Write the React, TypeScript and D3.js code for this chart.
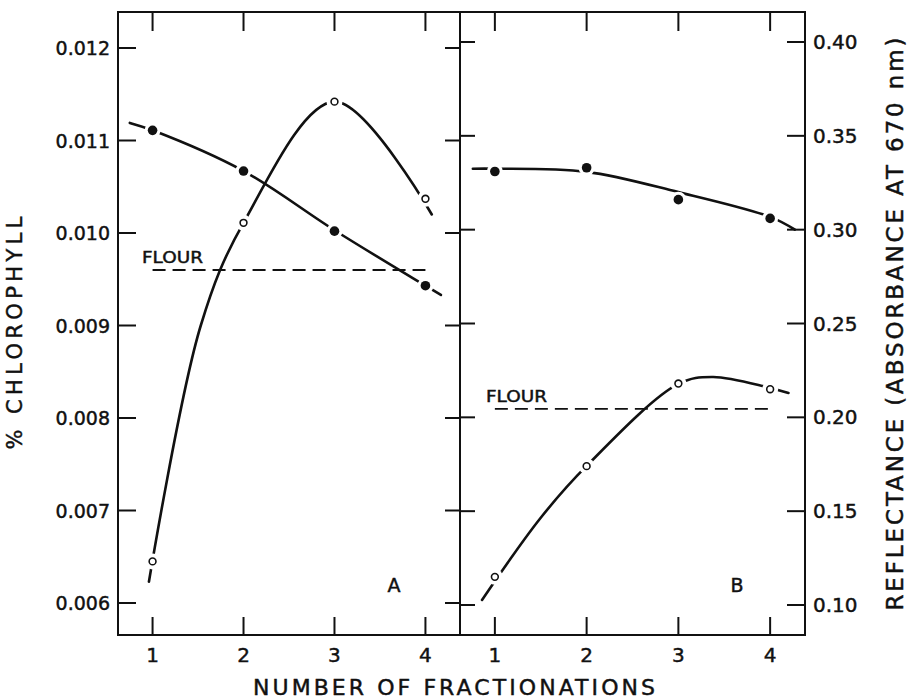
import React from 'react';
import * as d3 from 'd3';

const fractions = [1, 2, 3, 4];

// panel A, % chlorophyll
const chlFilled = [0.01111, 0.01067, 0.01002, 0.00943];
const chlOpen = [0.00645, 0.01011, 0.01142, 0.01037];
const chlFlour = 0.0096;
const chlTicks = [0.006, 0.007, 0.008, 0.009, 0.01, 0.011, 0.012];

// hand-drawn curves through panel A points
const chlFilledCurveX = [0.75, 1, 2, 3, 4, 4.17];
const chlFilledCurveY = [0.01119, 0.01111, 0.01067, 0.01003, 0.00943, 0.00933];
const chlOpenCurveX = [0.96, 1.53, 2, 3, 4.07];
const chlOpenCurveY = [0.00623, 0.009, 0.01011, 0.01142, 0.0102];

// panel B, reflectance
const refFilled = [0.331, 0.333, 0.316, 0.306];
const refOpen = [0.115, 0.174, 0.218, 0.215];
const refFlour = 0.2045;
const refTicks = [0.1, 0.15, 0.2, 0.25, 0.3, 0.35, 0.4];

const refFilledCurveX = [0.76, 1, 2, 3, 4, 4.27];
const refFilledCurveY = [0.3325, 0.3325, 0.3308, 0.32, 0.3068, 0.3];
const refOpenCurveX = [0.86, 1.5, 2, 3, 3.38, 4.2];
const refOpenCurveY = [0.1027, 0.1465, 0.1741, 0.2178, 0.2215, 0.213];

const font = '"DejaVu Sans", sans-serif';

export default function App() {
  const left = 118, mid = 460, right = 805, top = 12, bottom = 635;

  const xA = d3.scaleLinear().domain([0.62, 4.38]).range([left, mid]);
  const xB = d3.scaleLinear().domain([0.62, 4.38]).range([mid, right]);
  const yA = d3.scaleLinear().domain([0.006, 0.012]).range([603, 48]);
  const yB = d3.scaleLinear().domain([0.1, 0.4]).range([605, 42]);

  const curve = (xs: number[], ys: number[], x: any, y: any) =>
    d3.line<number>()
      .x((_, i) => x(xs[i]))
      .y(d => y(d))
      .curve(d3.curveCatmullRom.alpha(0.5))(ys) as string;

  const fmtA = d3.format('.3f');
  const fmtB = d3.format('.2f');

  const stroke = '#111';
  const ink = { fill: stroke, stroke: stroke, strokeWidth: 0.45 };

  const markers = (vals: number[], x: any, y: any, filled: boolean) =>
    fractions.map((f, i) => (
      <g key={i}>
        <circle cx={x(f)} cy={y(vals[i])} r={8} fill="#fff" />
        {filled
          ? <circle cx={x(f)} cy={y(vals[i])} r={4.8} fill={stroke} />
          : <circle cx={x(f)} cy={y(vals[i])} r={3.4} fill="#fff" stroke={stroke} strokeWidth={1.6} />}
      </g>
    ));

  return (
    <svg width={916} height={700} style={{ position: 'absolute', left: 0, top: 0, background: '#fff' }}
      fontFamily={font}>
      <rect x={0} y={0} width={916} height={700} fill="#fff" />

      {/* frame */}
      <rect x={left} y={top} width={right - left} height={bottom - top} fill="none" stroke={stroke} strokeWidth={2} />
      <line x1={mid} x2={mid} y1={top} y2={bottom} stroke={stroke} strokeWidth={2} />

      {/* y ticks, scale A */}
      {chlTicks.map(t => (
        <g key={'a' + t}>
          <line x1={left} x2={left + 18} y1={yA(t)} y2={yA(t)} stroke={stroke} strokeWidth={2} />
          <line x1={mid - 15} x2={mid} y1={yA(t)} y2={yA(t)} stroke={stroke} strokeWidth={2} />
          <text x={110} y={yA(t)} textAnchor="end" dominantBaseline="central" fontSize={19} {...ink}>
            {fmtA(t)}
          </text>
        </g>
      ))}

      {/* y ticks, scale B */}
      {refTicks.map(t => (
        <g key={'b' + t}>
          <line x1={mid} x2={mid + 15} y1={yB(t)} y2={yB(t)} stroke={stroke} strokeWidth={2} />
          <line x1={right - 18} x2={right} y1={yB(t)} y2={yB(t)} stroke={stroke} strokeWidth={2} />
          <text x={813} y={yB(t)} textAnchor="start" dominantBaseline="central" fontSize={20} {...ink}>
            {fmtB(t)}
          </text>
        </g>
      ))}

      {/* x ticks, both panels */}
      {[xA, xB].map((x, p) => fractions.map(f => (
        <g key={p + '-' + f}>
          <line x1={x(f)} x2={x(f)} y1={top} y2={top + 19} stroke={stroke} strokeWidth={2} />
          <line x1={x(f)} x2={x(f)} y1={bottom} y2={bottom - 18} stroke={stroke} strokeWidth={2} />
          <text x={x(f)} y={662} textAnchor="middle" fontSize={20} {...ink}>{f}</text>
        </g>
      )))}

      {/* flour reference lines */}
      <line x1={xA(1)} x2={xA(4)} y1={yA(chlFlour)} y2={yA(chlFlour)} stroke={stroke} strokeWidth={1.8} strokeDasharray="13 7" />
      <text x={142} y={yA(chlFlour) - 7} fontSize={15} {...ink} textLength={61} lengthAdjust="spacingAndGlyphs">FLOUR</text>
      <line x1={xB(1)} x2={xB(4)} y1={yB(refFlour)} y2={yB(refFlour)} stroke={stroke} strokeWidth={1.8} strokeDasharray="13 7" />
      <text x={486} y={yB(refFlour) - 7} fontSize={15} {...ink} textLength={61} lengthAdjust="spacingAndGlyphs">FLOUR</text>

      {/* curves */}
      <g fill="none" stroke={stroke} strokeWidth={2.6} strokeLinecap="round">
        <path d={curve(chlFilledCurveX, chlFilledCurveY, xA, yA)} />
        <path d={curve(chlOpenCurveX, chlOpenCurveY, xA, yA)} />
        <path d={curve(refFilledCurveX, refFilledCurveY, xB, yB)} />
        <path d={curve(refOpenCurveX, refOpenCurveY, xB, yB)} />
      </g>

      {/* markers, with white halos breaking the lines */}
      {markers(chlFilled, xA, yA, true)}
      {markers(chlOpen, xA, yA, false)}
      {markers(refFilled, xB, yB, true)}
      {markers(refOpen, xB, yB, false)}

      {/* panel letters */}
      <text x={394} y={592} textAnchor="middle" fontSize={19} {...ink}>A</text>
      <text x={737} y={592} textAnchor="middle" fontSize={19} {...ink}>B</text>

      {/* axis titles */}
      <text x={253} y={695} fontSize={22} {...ink} textLength={402} lengthAdjust="spacing">
        NUMBER OF FRACTIONATIONS
      </text>
      <text transform="translate(15,333) rotate(-90)" textAnchor="middle" dominantBaseline="central"
        fontSize={21} {...ink} textLength={233} lengthAdjust="spacing">
        % CHLOROPHYLL
      </text>
      <text transform="translate(895,324) rotate(-90)" textAnchor="middle" dominantBaseline="central"
        fontSize={23} {...ink} textLength={573} lengthAdjust="spacing">
        REFLECTANCE (ABSORBANCE AT 670 nm)
      </text>
    </svg>
  );
}
